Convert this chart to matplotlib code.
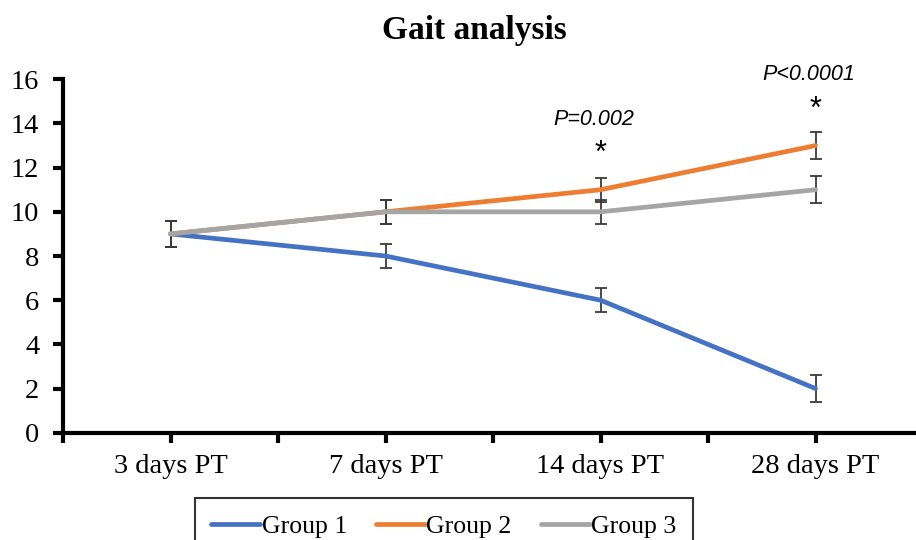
import numpy as np
import matplotlib
matplotlib.use("Agg")
import matplotlib.pyplot as plt
from matplotlib.ticker import MultipleLocator
from matplotlib.lines import Line2D

days = ['3 days PT', '7 days PT', '14 days PT', '28 days PT']
group1 = [9, 8, 6, 2]
group2 = [9, 10, 11, 13]
group3 = [9, 10, 10, 11]
err = [0.6, 0.55, 0.55, 0.6]
pvals = ['P=0.002', 'P<0.0001']
p_pos = [2, 3]

colors = ['#4472C4', '#ED7D31', '#A5A5A5']
names = ['Group 1', 'Group 2', 'Group 3']

plt.rcParams['font.family'] = ['Liberation Serif', 'DejaVu Serif']

fig = plt.figure(figsize=(9.16, 5.4), dpi=100)
ax = fig.add_axes([63 / 916, 1 - 432.7 / 540, 860 / 916, (432.7 - 79.3) / 540])

x = np.arange(len(days))
for vals, c in zip([group1, group2, group3], colors):
    ax.errorbar(x, vals, yerr=err, color=c, lw=3.4,
                ecolor='#3a3a3a', elinewidth=1.3, capsize=4, capthick=1.3,
                solid_capstyle='round', zorder=3)

ax.set_xlim(-0.5, 3.5)
ax.set_ylim(0, 16)
ax.set_yticks(range(0, 17, 2))
ax.set_xticks(x)
ax.set_xticklabels(days)
ax.xaxis.set_minor_locator(MultipleLocator(0.5))
ax.tick_params(axis='both', labelsize=20.5, width=3, length=7, direction='out')
ax.tick_params(axis='x', which='minor', width=3, length=7)
ax.tick_params(axis='x', pad=8)
ax.tick_params(axis='y', pad=10)

for s in ['top', 'right']:
    ax.spines[s].set_visible(False)
for s in ['left', 'bottom']:
    ax.spines[s].set_linewidth(3)

for xp, t, top in zip(p_pos, pvals, [group2[2], group2[3]]):
    ax.text(xp - 0.03, top + 3.2, t, ha='center', va='center', fontsize=15.5,
            style='italic', family=['Liberation Sans', 'DejaVu Sans'])
    ax.text(xp, top + 1.6, '*', ha='center', va='center', fontsize=22,
            family=['Liberation Sans', 'DejaVu Sans'])

fig.text(474 / 916, 1 - 31 / 540, 'Gait analysis', ha='center', va='center',
         fontsize=24, fontweight='bold')

handles = [Line2D([], [], color=c, lw=3.4, solid_capstyle='round') for c in colors]
leg = fig.legend(handles, names, loc='upper center',
                 bbox_to_anchor=(444 / 916, 1 - 498 / 540), borderaxespad=0,
                 ncol=3, fontsize=18.5, frameon=True, fancybox=False,
                 handlelength=1.9, handletextpad=0.05, columnspacing=1.15,
                 borderpad=0.65, edgecolor='black')
leg.get_frame().set_linewidth(1.5)

fig.savefig('out.png', dpi=100)
